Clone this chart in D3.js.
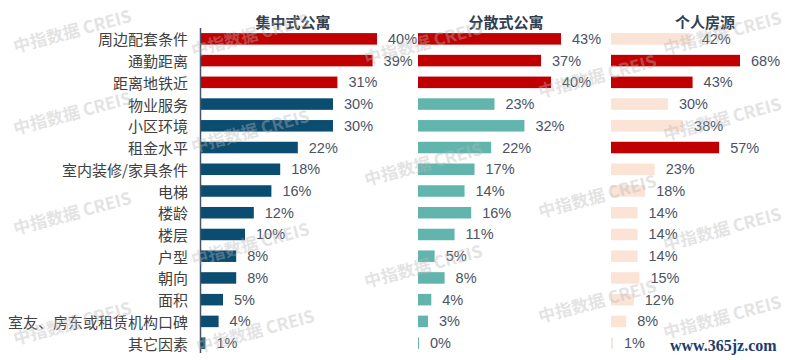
<!DOCTYPE html>
<html><head><meta charset="utf-8">
<script src="https://cdn.jsdelivr.net/npm/d3@7"></script>
<style>
html,body{margin:0;padding:0;background:#fff;}
svg{display:block;}
</style></head>
<body>
<svg id="chart" width="792" height="360"></svg>
<script>
const categories = ["周边配套条件","通勤距离","距离地铁近","物业服务","小区环境","租金水平","室内装修/家具条件","电梯","楼龄","楼层","户型","朝向","面积","室友、房东或租赁机构口碑","其它因素"];
const panelTitles = ["集中式公寓","分散式公寓","个人房源"];
const centralized = [40,39,31,30,30,22,18,16,12,10,8,8,5,4,1];
const dispersed   = [43,37,40,23,32,22,17,14,16,11,5,8,4,3,0];
const individual  = [42,68,43,30,38,57,23,18,14,14,14,15,12,8,1];
const highlightCentralized = [1,1,1,0,0,0,0,0,0,0,0,0,0,0,0];
const highlightDispersed   = [1,1,1,0,0,0,0,0,0,0,0,0,0,0,0];
const highlightIndividual  = [0,1,1,0,0,1,0,0,0,0,0,0,0,0,0];

const svg = d3.select("#chart");
const RED = "#C00000";
const labelColor = "#404040";
const valueColor = "#4a5364";

const y = d3.scaleBand().domain(categories).range([28, 354]).paddingInner(0.47).paddingOuter(0.235);

const panels = [
  {title: panelTitles[0], values: centralized, hl: highlightCentralized, base: "#0B4D70", x: d3.scaleLinear().domain([0,40]).range([201,377]), titleX: 293},
  {title: panelTitles[1], values: dispersed, hl: highlightDispersed, base: "#62B5AD", x: d3.scaleLinear().domain([0,43]).range([418,561]), titleX: 506},
  {title: panelTitles[2], values: individual, hl: highlightIndividual, base: "#FBE3D6", x: d3.scaleLinear().domain([0,68]).range([611,740]), titleX: 705}
];

// category labels
svg.append("g").selectAll("text").data(categories).join("text")
  .attr("x", 188).attr("y", d => y(d) + y.bandwidth()/2)
  .attr("text-anchor","end").attr("dominant-baseline","central")
  .attr("font-family","'Noto Sans CJK SC', 'Noto Sans', sans-serif")
  .attr("font-size", 15).attr("fill", labelColor)
  .text(d => d);

panels.forEach(p => {
  const g = svg.append("g");
  const rows = categories.map((c,i) => ({c, v: p.values[i], h: p.hl[i]}));
  g.selectAll("rect").data(rows).join("rect")
    .attr("x", p.x(0))
    .attr("y", d => y(d.c))
    .attr("width", d => Math.max(1, p.x(d.v) - p.x(0)))
    .attr("height", y.bandwidth())
    .attr("fill", d => d.h ? RED : p.base);
  g.selectAll("text.val").data(rows).join("text").attr("class","val")
    .attr("x", d => Math.max(p.x(d.v), p.x(0)+1) + 11)
    .attr("y", d => y(d.c) + y.bandwidth()/2)
    .attr("dominant-baseline","central")
    .attr("font-family","'Liberation Sans', Arial, sans-serif")
    .attr("font-size", 14.5).attr("fill", valueColor)
    .text(d => d.v + "%");
  g.append("text").attr("x", p.titleX).attr("y", 28)
    .attr("text-anchor","middle")
    .attr("font-family","'Noto Sans CJK SC', sans-serif")
    .attr("font-weight","bold").attr("font-size", 15).attr("fill","#333f50")
    .text(p.title);
});

// axis line for first panel
svg.append("line").attr("x1",200.5).attr("x2",200.5).attr("y1",28).attr("y2",353)
  .attr("stroke","#44546A").attr("stroke-width",1.5);

// watermark (kept inside the frame)
const wmCenters = [[72,30],[72,112],[72,212],[72,322],[250,34],[250,130],[250,243],[255,330],[423,42],[423,163],[423,265],[597,75],[597,195],[597,300],[722,32],[722,118],[722,228],[722,316]];
svg.append("g").selectAll("text").data(wmCenters).join("text")
  .attr("transform", d => `translate(${d[0]},${d[1]}) rotate(-15)`)
  .attr("text-anchor","middle").attr("dominant-baseline","central")
  .attr("font-family","'Noto Sans CJK SC', sans-serif").attr("font-weight","bold")
  .attr("font-size",17).attr("fill","#b8b8b8").attr("opacity",0.38)
  .text("中指数据 CREIS");

svg.append("text").attr("x",670).attr("y",351)
  .attr("font-family","'Liberation Serif', serif").attr("font-weight","bold")
  .attr("font-size",16).attr("fill","#1b3c70")
  .text("www.365jz.com");
</script>
</body></html>
